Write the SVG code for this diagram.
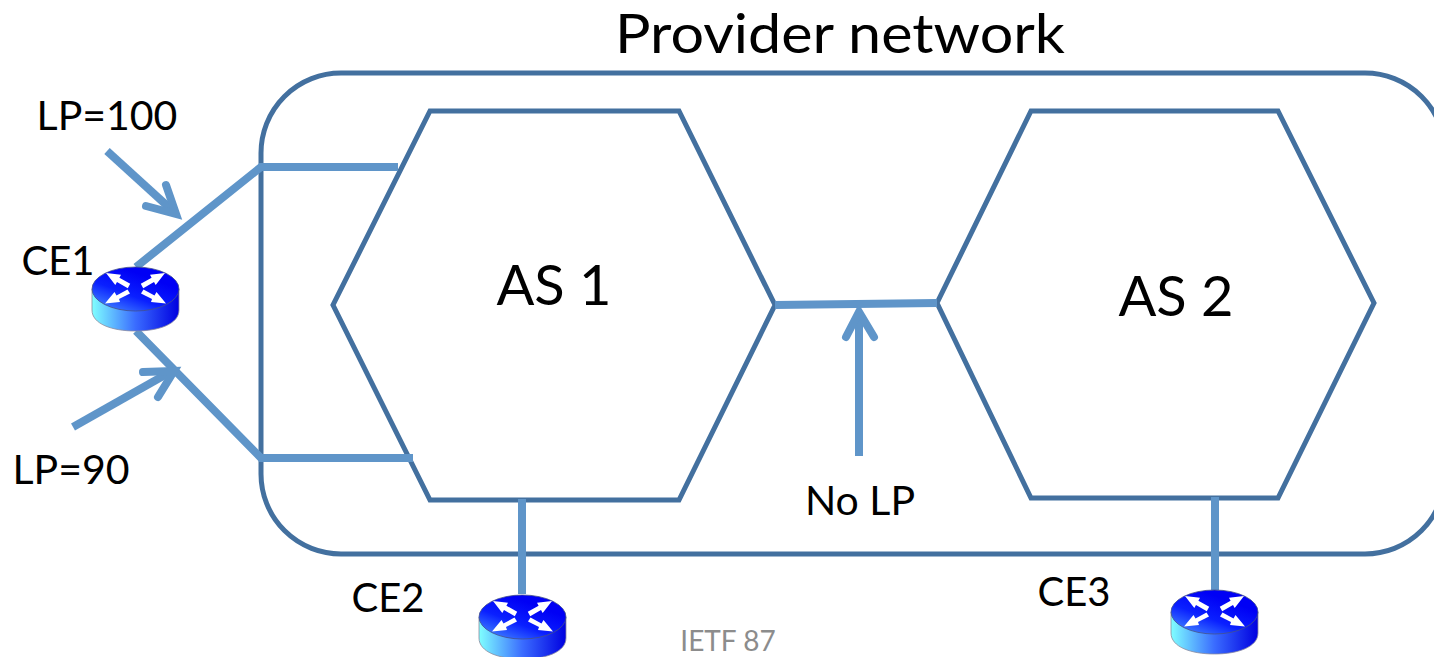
<svg xmlns="http://www.w3.org/2000/svg" xmlns:xlink="http://www.w3.org/1999/xlink" width="1434" height="657" viewBox="0 0 1434 657">
<style>
text{font-family:"Lato","Open Sans","Liberation Sans",sans-serif;fill:#000}
.o{fill:none;stroke:#43709f;stroke-width:5}
.l{fill:none;stroke:#5f95c9;stroke-width:8}
.h{fill:none;stroke:#5f95c9;stroke-width:8;stroke-linecap:round;stroke-linejoin:miter}
.t{font-size:40px}
.n{font-size:41px}
.b{font-size:56px}
</style>
<defs>
<linearGradient id="side" x1="0" x2="1" y1="0" y2="0"><stop offset="0" stop-color="#7fffff"/><stop offset=".5" stop-color="#3a6cff"/><stop offset="1" stop-color="#0000e0"/></linearGradient>
<linearGradient id="top" x1="0" x2="0.6" y1="1" y2="0.2"><stop offset="0" stop-color="#4f9cff"/><stop offset=".55" stop-color="#0a20ff"/><stop offset="1" stop-color="#0000f5"/></linearGradient>
<g id="router">
<path d="M0 23V44C0 58 20 65 43.500 65S87 58 87 44V23Z" fill="url(#side)" stroke="#8a8aa0" stroke-width=".8"/>
<ellipse cx="43.500" cy="23" rx="43.500" ry="22" fill="url(#top)" stroke="#44508a" stroke-width=".8"/>
<g fill="#fff">
<path d="M14 7L29 8.700L27.400 11.700L38.200 17.800L35.800 22.200L25 16.100L23.300 19.100Z"/>
<path d="M73 7L58 8.700L59.600 11.700L48.800 17.800L51.200 22.200L62 16.100L63.700 19.100Z"/>
<path d="M13 37.500L28 36L27 33L38 27.500L35.500 23.500L24.500 29.500L22.500 26Z"/>
<path d="M74 37.500L59 36L60 33L49 27.500L51.500 23.500L62.500 29.500L64.500 26Z"/>
</g>
</g>
</defs>
<g id="provider-network"><rect x="261" y="73" width="1184" height="481" rx="80" ry="80" class="o"/><text x="615" y="53" style="font-size:54px" textLength="450" lengthAdjust="spacingAndGlyphs">Provider network</text></g>
<g id="as1"><path d="M430 111H679L775 305L679 500H430L333 305Z" class="o"/><text x="554" y="305" class="b" text-anchor="middle">AS 1</text></g>
<g id="as2"><path d="M1031 111H1278L1374 303L1278 498H1031L937 303Z" class="o"/><text x="1176" y="316" class="b" text-anchor="middle">AS 2</text></g>
<g id="connectors">
<path class="l" d="M136 267L261 167H398"/>
<path class="l" d="M136 331L261 458H413"/>
<path class="l" d="M775 305L937 303"/>
<path class="l" d="M522 499V594"/>
<path class="l" d="M1215 497V590"/>
<path class="l" d="M107 151L174 212"/>
<path class="h" d="M166 185L176 214L146 206"/>
<path class="l" d="M73 427L172 371"/>
<path class="h" d="M143 372L174 371L158 397"/>
<path class="l" d="M859 456V312"/>
<path class="h" d="M846 337L859 312L874 337"/>
</g>
<g id="ce1"><use xlink:href="#router" href="#router" x="92" y="266"/><text x="58" y="275" class="t" text-anchor="middle">CE1</text></g>
<g id="ce2"><use xlink:href="#router" href="#router" x="479" y="594"/><text x="388" y="612" class="t" text-anchor="middle">CE2</text></g>
<g id="ce3"><use xlink:href="#router" href="#router" x="1171" y="589"/><text x="1074" y="606" class="t" text-anchor="middle">CE3</text></g>
<g id="labels">
<text x="107" y="130" class="n" text-anchor="middle">LP=100</text>
<text x="71" y="484" class="n" text-anchor="middle">LP=90</text>
<text x="860" y="515" class="n" text-anchor="middle">No LP</text>
<text x="728" y="651" style="font-size:28px;fill:#8c8c8c" text-anchor="middle">IETF 87</text>
</g>
</svg>
